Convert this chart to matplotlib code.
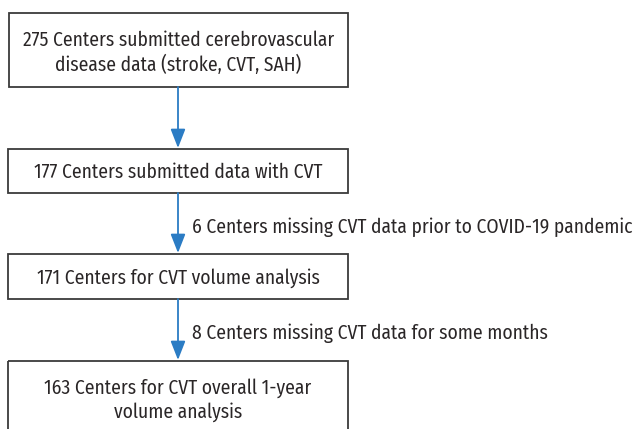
import matplotlib
matplotlib.use("Agg")
import matplotlib.pyplot as plt
from matplotlib.patches import Rectangle
from matplotlib import font_manager

box_texts = [
    "275 Centers submitted cerebrovascular\ndisease data (stroke, CVT, SAH)",
    "177 Centers submitted data with CVT",
    "171 Centers for CVT volume analysis",
    "163 Centers for CVT overall 1-year\nvolume analysis",
]
arrow_labels = [
    "",
    "6 Centers missing CVT data prior to COVID-19 pandemic",
    "8 Centers missing CVT data for some months",
]

# layout (pixel coordinates, y downward)
boxes = [(9, 13, 348, 87), (8, 149, 348, 193), (8, 254, 348, 299), (8, 361, 348, 445)]
arrow_x = 178

names = {f.name for f in font_manager.fontManager.ttflist}
family = "DejaVu Sans"
for cand in ["Fira Sans Condensed", "PT Sans Narrow", "Roboto Condensed",
             "Encode Sans Condensed", "Open Sans Condensed", "Liberation Sans Narrow"]:
    if cand in names:
        family = cand
        break
weight = "normal"

W, H = 639, 429
fig = plt.figure(figsize=(W / 100, H / 100), dpi=100)
ax = fig.add_axes([0, 0, 1, 1])
ax.set_xlim(0, W)
ax.set_ylim(H, 0)
ax.axis("off")

# fit font size so the first line spans ~310 px as in the reference
renderer = fig.canvas.get_renderer()
probe = fig.text(0, 0, "275 Centers submitted cerebrovascular", fontsize=10,
                 family=family, fontweight=weight)
w = probe.get_window_extent(renderer).width
probe.remove()
fs = 10 * 310 / w

edge = "#3a3a3a"
blue = "#2b7cc4"
txtc = "#2a2627"

centers_y = [53, 172, 278, 400]
for (x0, y0, x1, y1), t, yc in zip(boxes, box_texts, centers_y):
    ax.add_patch(Rectangle((x0, y0), x1 - x0, y1 - y0, fill=False, ec=edge, lw=1.3))
    ax.text((x0 + x1) / 2, yc, t, ha="center", va="center", fontsize=fs,
            family=family, fontweight=weight, color=txtc, linespacing=1.28)

for i in range(3):
    y_start = boxes[i][3]
    y_end = boxes[i + 1][1] - 1
    ax.annotate("", xy=(arrow_x, y_end), xytext=(arrow_x, y_start),
                arrowprops=dict(arrowstyle="-|>,head_length=1.15,head_width=0.45",
                                color=blue, lw=1.3, shrinkA=0, shrinkB=0))
    if arrow_labels[i]:
        ax.text(arrow_x + 14, (y_start + y_end) / 2 + 4, arrow_labels[i], ha="left",
                va="center", fontsize=fs, family=family, fontweight=weight, color=txtc)

fig.savefig("out.png", dpi=100)
